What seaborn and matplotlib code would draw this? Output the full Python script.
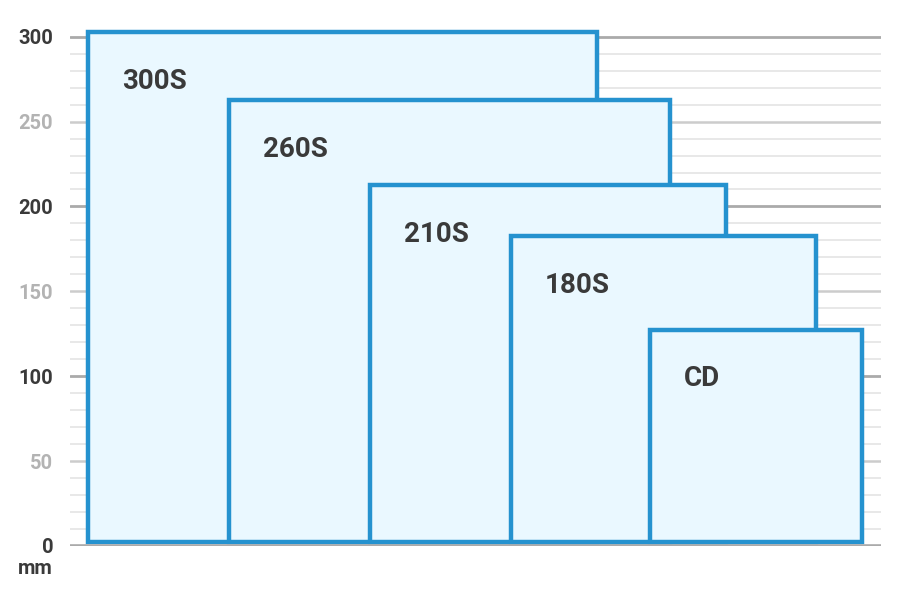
import matplotlib
matplotlib.use("Agg")
import matplotlib.pyplot as plt
import seaborn as sns
import numpy as np

# Data
names = ["300S", "260S", "210S", "180S", "CD"]
widths = [300, 260, 210, 180, 125]
heights = [300, 260, 210, 180, 125]
lefts = [0, 83, 166, 249, 331]
y_ticks = [0, 50, 100, 150, 200, 250, 300]
y_tick_labels = ["0", "50", "100", "150", "200", "250", "300"]
unit_label = "mm"

sns.set_style("white")
plt.rcParams["font.family"] = ["Roboto", "DejaVu Sans"]

fig = plt.figure(figsize=(9.12, 5.98), dpi=100)
ax = fig.add_axes([0.0768, 0.0870, 0.8892, 0.880])

base = 2.5
fill = "#eaf8ff"
edge = "#2592cf"

# grid lines
for v in range(10, 310, 10):
    if v % 100 == 0:
        c, lw = "#aaaaaa", 2.0
    elif v % 50 == 0:
        c, lw = "#cccccc", 1.8
    else:
        c, lw = "#e6e6e6", 1.3
    ax.axhline(v, color=c, lw=lw, zorder=0)
ax.axhline(0, color="#aaaaaa", lw=2.6, zorder=5)

ax.bar(lefts, heights, width=widths, bottom=base, align="edge",
       color=fill, edgecolor=edge, linewidth=3.2, zorder=2)

for n, l, h in zip(names, lefts, heights):
    ax.text(l + 20, base + h - 29, n, ha="left", va="center",
            fontsize=20, fontweight="bold", color="#3a3a3a", zorder=6)

ax.set_xlim(-10.6, 467)
ax.set_ylim(0, 310)
ax.set_xticks([])
ax.set_yticks(y_ticks)
ax.set_yticklabels(y_tick_labels)
ax.tick_params(axis="y", length=0, pad=12)
for lab, v in zip(ax.get_yticklabels(), y_ticks):
    lab.set_fontsize(14.5)
    lab.set_fontweight("bold")
    lab.set_color("#3a3a3a" if v % 100 == 0 else "#b3b3b3")
for s in ax.spines.values():
    s.set_visible(False)

fig.text(53 / 912, 1 - 569 / 598, unit_label, ha="right", va="center",
         fontsize=14.5, fontweight="bold", color="#3a3a3a")

fig.savefig("out.png", dpi=100)
